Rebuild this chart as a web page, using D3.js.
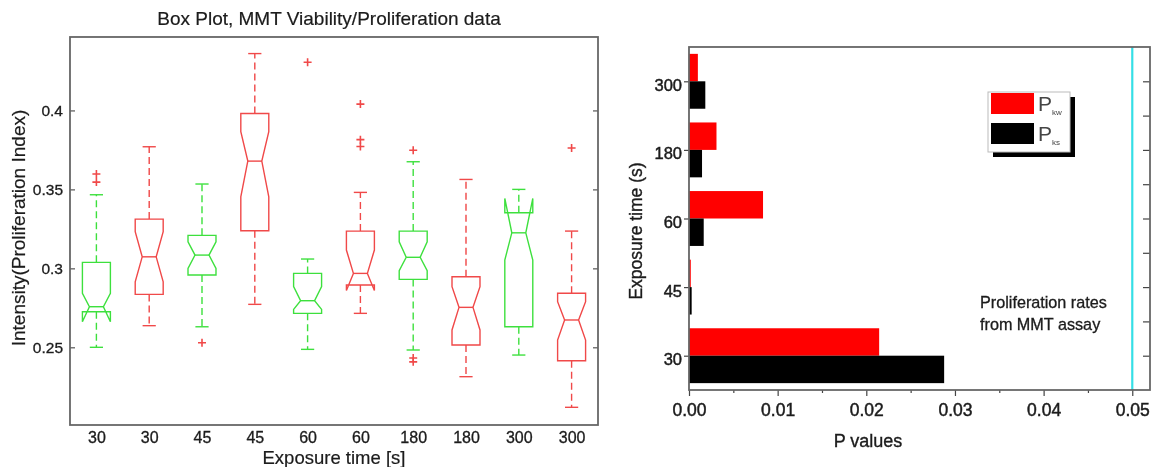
<!DOCTYPE html>
<html>
<head>
<meta charset="utf-8">
<script src="https://cdn.jsdelivr.net/npm/d3@7"></script>
<style>
  html, body { margin: 0; padding: 0; background: #fff; }
  svg { display: block; font-family: "Liberation Sans", Arial, sans-serif; }
</style>
</head>
<body>
<svg id="fig" width="1154" height="467"></svg>
<script>
// ---- Box plot: MMT viability / proliferation intensity per exposure time ----
const boxLabels   = ["30", "30", "45", "45", "60", "60", "180", "180", "300", "300"];
const boxGroup    = [1, 2, 1, 2, 1, 2, 1, 2, 1, 2];
const whiskerLow  = [0.2500, 0.2637, 0.2630, 0.2772, 0.2487, 0.2715, 0.2483, 0.2314, 0.2451, 0.2120];
const q1          = [0.2725, 0.2835, 0.2958, 0.3238, 0.2715, 0.2895, 0.2930, 0.2515, 0.2630, 0.2415];
const notchLow    = [0.2662, 0.2915, 0.3000, 0.3453, 0.2740, 0.2860, 0.2985, 0.2610, 0.3053, 0.2546];
const medians     = [0.2757, 0.3073, 0.3084, 0.3679, 0.2795, 0.2968, 0.3070, 0.2753, 0.3225, 0.2673];
const notchHigh   = [0.2842, 0.3232, 0.3168, 0.3865, 0.2884, 0.3116, 0.3168, 0.2884, 0.3443, 0.2789];
const q3          = [0.3038, 0.3312, 0.3209, 0.3981, 0.2968, 0.3236, 0.3236, 0.2947, 0.3352, 0.2842];
const whiskerHigh = [0.3466, 0.3770, 0.3534, 0.4360, 0.3059, 0.3481, 0.3675, 0.3563, 0.3500, 0.3236];
const outliers    = [[0.3597, 0.3546], [], [0.2529], [], [0.4305], [0.4040, 0.3815, 0.3772],
                     [0.3748, 0.2432, 0.2408], [], [], [0.3762]];
const intensityTicks = [0.25, 0.3, 0.35, 0.4];

// ---- Horizontal bars: P values per exposure time ----
const pCategories = ["30", "45", "60", "180", "300"];
const pKw = [0.02145, 0.0002, 0.00835, 0.0031, 0.0010];
const pKs = [0.02878, 0.0003, 0.00166, 0.00147, 0.00184];
const pTicks = [0, 0.01, 0.02, 0.03, 0.04, 0.05];
const pMinorTicks = [0.005, 0.015, 0.025, 0.035, 0.045];
const significance = 0.05;

const svg = d3.select("#fig");
const defs = svg.append("defs");
defs.append("filter").attr("id", "soft")
  .append("feGaussianBlur").attr("stdDeviation", 0.45);
const root = svg.append("g").attr("filter", "url(#soft)");

const boxColor = d3.scaleOrdinal().domain([1, 2]).range(["#3ee03e", "#f04848"]);
const outlierColor = "#f04848";
const textColor = "#1a1a1a";

// slightly heavier text strokes
function ink(sel, w) {
  sel.attr("stroke", textColor).attr("stroke-width", w).attr("paint-order", "stroke");
}

// ================= left panel =================
const L = { left: 70, right: 598, top: 37, bottom: 425 };
const x1 = d3.scaleLinear().domain([0.5, boxLabels.length + 0.5]).range([L.left, L.right]);
const y1 = d3.scaleLinear().domain([0.2008, 0.4465]).range([L.bottom, L.top]);

const left = root.append("g");

const boxes = boxLabels.map((lab, i) => ({
  i, lab, g: boxGroup[i], wl: whiskerLow[i], q1: q1[i], nl: notchLow[i], med: medians[i],
  nh: notchHigh[i], q3: q3[i], wh: whiskerHigh[i], out: outliers[i]
}));

const boxHalf = 0.265, capHalf = 0.125;

const boxG = left.selectAll("g.box").data(boxes).join("g").attr("class", "box");

// dashed whiskers
boxG.append("line")
  .attr("x1", d => x1(d.i + 1)).attr("x2", d => x1(d.i + 1))
  .attr("y1", d => y1(d.q3)).attr("y2", d => y1(d.wh))
  .attr("stroke", d => boxColor(d.g)).attr("stroke-width", 1.4).attr("stroke-dasharray", "7,4");
boxG.append("line")
  .attr("x1", d => x1(d.i + 1)).attr("x2", d => x1(d.i + 1))
  .attr("y1", d => y1(d.q1)).attr("y2", d => y1(d.wl))
  .attr("stroke", d => boxColor(d.g)).attr("stroke-width", 1.4).attr("stroke-dasharray", "7,4");

// whisker caps
["wh", "wl"].forEach(k => {
  boxG.append("line")
    .attr("x1", d => x1(d.i + 1 - capHalf)).attr("x2", d => x1(d.i + 1 + capHalf))
    .attr("y1", d => y1(d[k])).attr("y2", d => y1(d[k]))
    .attr("stroke", d => boxColor(d.g)).attr("stroke-width", 1.4);
});

// notched box outline
boxG.append("path")
  .attr("d", d => {
    const c = d.i + 1;
    const xl = x1(c - boxHalf), xr = x1(c + boxHalf);
    const wl = x1(c - boxHalf / 2), wr = x1(c + boxHalf / 2);
    return d3.line()([
      [xl, y1(d.q1)], [xl, y1(d.nl)], [wl, y1(d.med)], [xl, y1(d.nh)], [xl, y1(d.q3)],
      [xr, y1(d.q3)], [xr, y1(d.nh)], [wr, y1(d.med)], [xr, y1(d.nl)], [xr, y1(d.q1)]
    ]) + "Z";
  })
  .attr("fill", "none").attr("stroke", d => boxColor(d.g)).attr("stroke-width", 1.4)
  .attr("stroke-linejoin", "miter");

// median line across the notch waist
boxG.append("line")
  .attr("x1", d => x1(d.i + 1 - boxHalf / 2)).attr("x2", d => x1(d.i + 1 + boxHalf / 2))
  .attr("y1", d => y1(d.med)).attr("y2", d => y1(d.med))
  .attr("stroke", d => boxColor(d.g)).attr("stroke-width", 1.4);

// outlier markers
const outPts = boxes.flatMap(d => d.out.map(v => ({ c: d.i + 1, v })));
left.selectAll("path.out").data(outPts).join("path").attr("class", "out")
  .attr("d", p => {
    const cx = x1(p.c), cy = y1(p.v), r = 4;
    return `M${cx - r},${cy}H${cx + r}M${cx},${cy - r}V${cy + r}`;
  })
  .attr("stroke", outlierColor).attr("stroke-width", 1.6).attr("fill", "none");

// axes of the left panel
const yAxisL = left.append("g").attr("transform", `translate(${L.left},0)`)
  .call(d3.axisLeft(y1).tickValues(intensityTicks).tickFormat(d3.format("")).tickSizeInner(-5).tickSizeOuter(0).tickPadding(7));
const yAxisR = left.append("g").attr("transform", `translate(${L.right},0)`)
  .call(d3.axisRight(y1).tickValues(intensityTicks).tickFormat("").tickSizeInner(-5).tickSizeOuter(0));
const xAxisB = left.append("g").attr("transform", `translate(0,${L.bottom})`)
  .call(d3.axisBottom(x1).tickValues(d3.range(1, boxLabels.length + 1)).tickFormat(i => boxLabels[i - 1]).tickSize(0).tickPadding(7));
[yAxisL, yAxisR, xAxisB].forEach(a => {
  a.select(".domain").remove();
  a.selectAll(".tick line").attr("stroke", "#555").attr("stroke-width", 1.2);
  a.selectAll("text").attr("fill", textColor).attr("font-family", "Liberation Sans, Arial, sans-serif").call(ink, 0.3);
});
yAxisL.selectAll("text").attr("font-size", 15.5);
xAxisB.selectAll("text").attr("font-size", 16);

left.append("rect")
  .attr("x", L.left).attr("y", L.top).attr("width", L.right - L.left).attr("height", L.bottom - L.top)
  .attr("fill", "none").attr("stroke", "#666").attr("stroke-width", 1.8);

left.append("text").attr("x", 329).attr("y", 25).attr("text-anchor", "middle")
  .attr("font-size", 19).attr("fill", textColor).call(ink, 0.2)
  .text("Box Plot, MMT Viability/Proliferation data");
left.append("text").attr("x", 334).attr("y", 464).attr("text-anchor", "middle")
  .attr("font-size", 18.5).attr("fill", textColor).call(ink, 0.2).text("Exposure time [s]");
left.append("text").attr("transform", "translate(25,228) rotate(-90)").attr("text-anchor", "middle")
  .attr("font-size", 19).attr("fill", textColor).call(ink, 0.2).text("Intensity(Proliferation Index)");

// ================= right panel =================
const R = { left: 689, right: 1150, top: 47, bottom: 390 };
const x2 = d3.scaleLinear().domain([0, 0.052]).range([R.left, R.right]);
const y2 = d3.scaleLinear().domain([-0.5, pCategories.length - 0.5]).range([R.bottom, R.top]);
const barH = 0.4;

const right = root.append("g");

right.selectAll("rect.kw").data(pKw).join("rect").attr("class", "kw")
  .attr("x", x2(0)).attr("y", (v, i) => y2(i + barH))
  .attr("width", v => x2(v) - x2(0)).attr("height", y2(0) - y2(barH))
  .attr("fill", "#ff0000");
right.selectAll("rect.ks").data(pKs).join("rect").attr("class", "ks")
  .attr("x", x2(0)).attr("y", (v, i) => y2(i))
  .attr("width", v => x2(v) - x2(0)).attr("height", y2(0) - y2(barH))
  .attr("fill", "#000000");

// significance threshold
right.append("line")
  .attr("x1", x2(significance)).attr("x2", x2(significance))
  .attr("y1", R.top).attr("y2", R.bottom)
  .attr("stroke", "#35dfe6").attr("stroke-width", 2.2);

const ax = [];
ax.push(right.append("g").attr("transform", `translate(0,${R.bottom})`)
  .call(d3.axisBottom(x2).tickValues(pTicks).tickFormat(d3.format(".2f")).tickSizeInner(6).tickSizeOuter(0).tickPadding(8)));
ax.push(right.append("g").attr("transform", `translate(0,${R.bottom})`)
  .call(d3.axisBottom(x2).tickValues(pMinorTicks).tickFormat("").tickSizeInner(3).tickSizeOuter(0)));
ax.push(right.append("g").attr("transform", `translate(${R.left},0)`)
  .call(d3.axisLeft(y2).tickValues(d3.range(pCategories.length)).tickFormat(i => pCategories[i]).tickSizeInner(5).tickSizeOuter(0).tickPadding(2)));
ax.push(right.append("g").attr("transform", `translate(${R.right},0)`)
  .call(d3.axisLeft(y2).tickValues(d3.range(0, pCategories.length - 0.5, 0.5)).tickFormat("").tickSizeInner(7).tickSizeOuter(0)));
ax.forEach(a => {
  a.select(".domain").remove();
  a.selectAll(".tick line").attr("stroke", "#444").attr("stroke-width", 1.2);
  a.selectAll("text").attr("fill", textColor).attr("font-family", "Liberation Sans, Arial, sans-serif").call(ink, 0.45);
});
ax[0].selectAll("text").attr("font-size", 17.5);
ax[2].selectAll("text").attr("font-size", 16.5).attr("dy", "0.55em");

right.append("rect")
  .attr("x", R.left).attr("y", R.top).attr("width", R.right - R.left).attr("height", R.bottom - R.top)
  .attr("fill", "none").attr("stroke", "#666").attr("stroke-width", 1.8);

right.append("text").attr("x", 868).attr("y", 447).attr("text-anchor", "middle")
  .attr("font-size", 18).attr("fill", textColor).call(ink, 0.35).text("P values");
right.append("text").attr("transform", "translate(642,231) rotate(-90)").attr("text-anchor", "middle")
  .attr("font-size", 17.5).attr("fill", textColor).call(ink, 0.35).text("Exposure time (s)");

const note = right.append("text").attr("x", 980).attr("y", 308).attr("font-size", 16.2)
  .attr("fill", textColor).call(ink, 0.3);
note.append("tspan").attr("x", 980).text("Proliferation rates");
note.append("tspan").attr("x", 980).attr("dy", 22).text("from MMT assay");

// legend with drop shadow
const legend = right.append("g").attr("transform", "translate(988,92)");
legend.append("rect").attr("x", 5).attr("y", 5).attr("width", 82).attr("height", 60).attr("fill", "#000");
legend.append("rect").attr("x", 0).attr("y", 0).attr("width", 82).attr("height", 60)
  .attr("fill", "#fff").attr("stroke", "#bbb").attr("stroke-width", 1);
const legendItems = [
  { fill: "#ff0000", sub: "kw" },
  { fill: "#000000", sub: "ks" }
];
legendItems.forEach((it, k) => {
  const gy = k * 30;
  legend.append("rect").attr("x", 3).attr("y", gy + 1).attr("width", 43).attr("height", 21).attr("fill", it.fill);
  const t = legend.append("text").attr("x", 50).attr("y", gy + 19).attr("fill", "#444").attr("font-size", 21);
  t.append("tspan").text("P");
  t.append("tspan").attr("font-size", 8).attr("dy", 4).text(it.sub);
});
</script>
</body>
</html>
